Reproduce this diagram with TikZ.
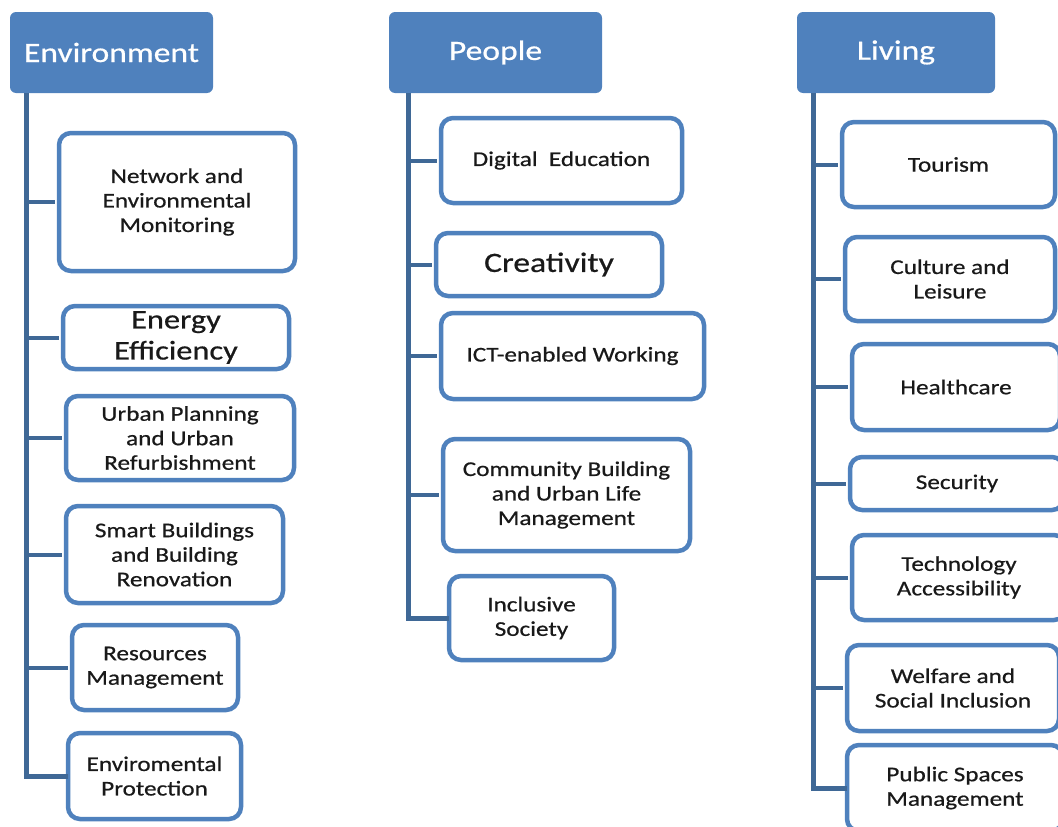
\documentclass[tikz,border=0pt]{standalone}
\usepackage{fontspec}
\setmainfont{Carlito}[FakeStretch=1.2,FakeBold=0.6]
\usepackage{tikz}

\definecolor{hdblue}{HTML}{4F81BD}
\definecolor{trunkblue}{HTML}{3F6896}

\begin{document}
\begin{tikzpicture}[x=1pt,y=-1pt,semithick]
\tikzstyle{head}=[shape=rectangle,fill=hdblue,rounded corners=6pt,text=white,inner sep=0pt,font=\fontsize{28}{32}\selectfont]
\tikzstyle{item}=[shape=rectangle,draw=hdblue,line width=4.5pt,rounded corners=12pt,fill=white,align=center,inner sep=0pt,text=black!90,font=\fontsize{21}{24.5}\selectfont]
\tikzstyle{big}=[font=\fontsize{27}{31}\selectfont]
\tikzstyle{bar}=[draw=trunkblue,line width=5pt]
\tikzstyle{twig}=[draw=trunkblue,line width=4pt,shorten >=2pt]

\useasboundingbox (0,0) rectangle (1058,827);

% column heads
\node[head,minimum width=203pt,minimum height=81pt] (env) at (111.5,52.5) {Environment};
\node[head,minimum width=213pt,minimum height=81pt] (peo) at (495.5,52.5) {People};
\node[head,minimum width=198pt,minimum height=81pt] (liv) at (896,52.5) {Living};

% environment
\node[item,minimum width=236pt,minimum height=138pt] (e1) at (177,202) {Network and\\Environmental\\Monitoring};
\node[item,big,minimum width=226pt,minimum height=63pt] (e2) at (176,337.5) {Energy\\Efficiency};
\node[item,minimum width=228pt,minimum height=84pt] (e3) at (180,438) {Urban Planning\\and Urban\\Refurbishment};
\node[item,minimum width=217pt,minimum height=97pt] (e4) at (174.5,554.5) {Smart Buildings\\and Building\\Renovation};
\node[item,minimum width=166pt,minimum height=85pt] (e5) at (155,667.5) {Resources\\Management};
\node[item,minimum width=173pt,minimum height=86pt] (e6) at (154.5,776) {Enviromental\\Protection};

% people
\node[item,minimum width=241pt,minimum height=85pt] (p1) at (561.5,160.5) {Digital~ Education};
\node[item,big,font=\fontsize{28}{32}\selectfont,minimum width=226pt,minimum height=63pt] (p2) at (549,264.5) {Creativity};
\node[item,minimum width=263pt,minimum height=86pt] (p3) at (572.5,356) {ICT-enabled Working};
\node[item,minimum width=247pt,minimum height=112pt] (p4) at (566.5,495) {Community Building\\and Urban Life\\Management};
\node[item,minimum width=165pt,minimum height=84pt] (p5) at (531.5,618) {Inclusive\\Society};

% living
\node[item,minimum width=213pt,minimum height=85pt] (l1) at (948.5,164.5) {Tourism};
\node[item,minimum width=210pt,minimum height=84pt] (l2) at (950,279) {Culture and\\Leisure};
\node[item,minimum width=208pt,minimum height=86pt] (l3) at (956,387) {Healthcare};
\node[item,minimum width=214pt,minimum height=53pt] (l4) at (957,483.5) {Security};
\node[item,minimum width=214pt,minimum height=85pt] (l5) at (959,577.5) {Technology\\Accessibility};
\node[item,minimum width=212pt,minimum height=86pt] (l6) at (953,688) {Welfare and\\Social Inclusion};
\node[item,minimum width=216pt,minimum height=86pt] (l7) at (955,788) {Public Spaces\\Management};

\coordinate (et) at (26,93);
\coordinate (pt) at (408,93);
\coordinate (lt) at (813,93);

% trunks with the last branch
\draw[bar] (et) |- ([xshift=2pt]e6.west);
\draw[bar] (pt) |- ([xshift=2pt]p5.west);
\draw[bar] (lt) |- ([xshift=2pt]l7.west);

% branches
\foreach \n in {e1,e2,e3,e4,e5}
  \draw[twig] (\n.west -| et) -- (\n.west);
\foreach \n in {p1,p2,p3,p4}
  \draw[twig] (\n.west -| pt) -- (\n.west);
\foreach \n in {l1,l2,l3,l4,l5,l6}
  \draw[twig] (\n.west -| lt) -- (\n.west);

\end{tikzpicture}
\end{document}
